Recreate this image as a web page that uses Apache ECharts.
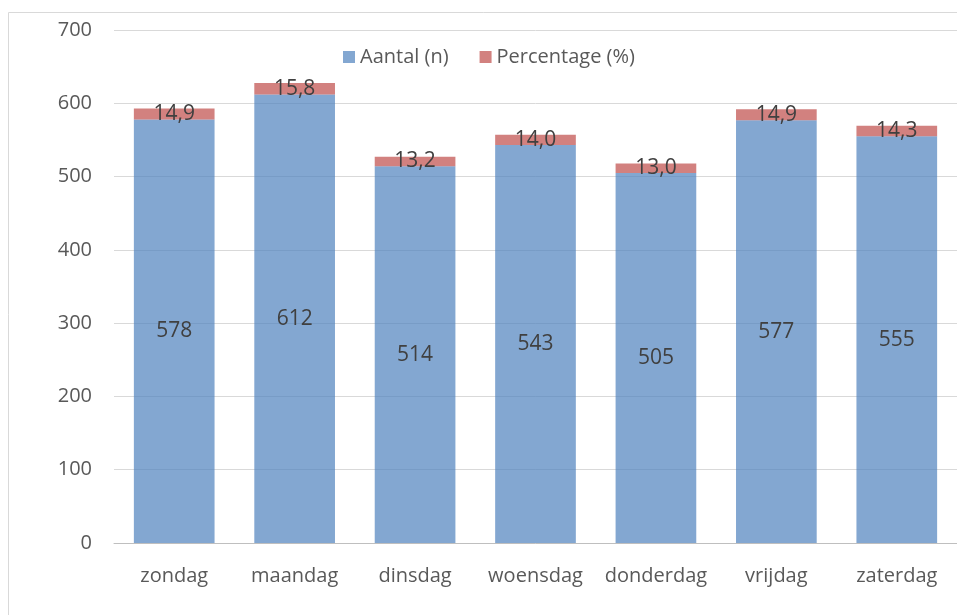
<!DOCTYPE html>
<html><head><meta charset="utf-8">
<script src="https://cdn.jsdelivr.net/npm/echarts@6/dist/echarts.min.js"></script>
<style>html,body{margin:0;padding:0;background:#fff;}#c{width:957px;height:615px;}</style>
</head><body><div id="c"></div>
<script>
const categories = ['zondag','maandag','dinsdag','woensdag','donderdag','vrijdag','zaterdag'];
const aantal = [578, 612, 514, 543, 505, 577, 555];
const percentage = [14.9, 15.8, 13.2, 14.0, 13.0, 14.9, 14.3];
const yTicks = [0, 100, 200, 300, 400, 500, 600, 700];

const FONT = '"Open Sans", sans-serif';
const chart = echarts.init(document.getElementById('c'));
chart.setOption({
  animation: false,
  graphic: [{type:'rect', shape:{x:8.5, y:12.5, width:1000, height:1000}, style:{fill:'none', stroke:'#d9d9d9', lineWidth:1}, silent:true}],
  legend: {
    top: 42, left: 338,
    itemWidth: 12, itemHeight: 12, itemGap: 31,
    icon: 'rect',
    textStyle: {fontFamily: FONT, fontSize: 20, color: '#595959'},
    data: ['Aantal (n)', 'Percentage (%)']
  },
  grid: {left: 114, right: -11, top: 30, bottom: 72},
  xAxis: {
    type: 'category', data: categories,
    axisLine: {lineStyle: {color: '#bfbfbf', width: 1}},
    axisTick: {show: false},
    axisLabel: {interval: 0, fontFamily: FONT, fontSize: 20, color: '#595959', margin: 23}
  },
  yAxis: {
    type: 'value', min: 0, max: 700, interval: 100,
    axisLine: {show: false}, axisTick: {show: false},
    splitLine: {lineStyle: {color: '#d9d9d9', width: 1}},
    axisLabel: {fontFamily: FONT, fontSize: 20, color: '#595959', margin: 22,
      formatter: v => yTicks.includes(v) ? String(v) : ''}
  },
  series: [
    {name: 'Aantal (n)', type: 'bar', stack: 't', data: aantal, barCategoryGap: '33%',
     itemStyle: {color: 'rgba(79,129,189,0.7)'},
     label: {show: true, position: 'inside', fontFamily: FONT, fontSize: 21, color: '#404040'}},
    {name: 'Percentage (%)', type: 'bar', stack: 't', data: percentage,
     itemStyle: {color: 'rgba(192,80,77,0.72)'},
     label: {show: true, position: 'inside', fontFamily: FONT, fontSize: 21, color: '#404040',
       formatter: p => p.value.toFixed(1).replace('.', ',')}}
  ]
});
</script></body></html>
